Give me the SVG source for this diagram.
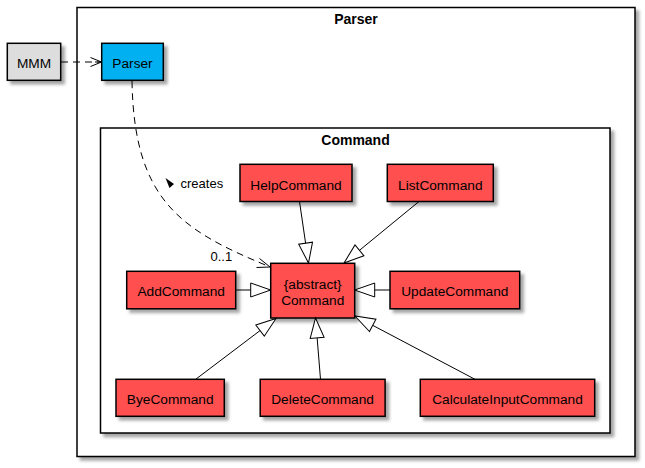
<svg xmlns="http://www.w3.org/2000/svg" width="645" height="468" viewBox="0 0 645 468">
<style>
.pkg{fill:#fff;stroke:#000;stroke-width:1.5}
.cls{stroke:#000;stroke-width:1.5}
.red{fill:#FF4F4F}
.t{font-family:"Liberation Sans",Arial,sans-serif;font-size:13.7px;fill:#000;text-anchor:middle}
.pt{font-family:"Liberation Sans",Arial,sans-serif;font-size:14px;font-weight:bold;fill:#000;text-anchor:middle}
.lbl{font-family:"Liberation Sans",Arial,sans-serif;font-size:13px;fill:#000}
.gen{fill:none;stroke:#000;stroke-width:1;marker-end:url(#ext)}
.dep{fill:none;stroke:#000;stroke-width:1;stroke-dasharray:7,5}
</style>
<defs>
<filter id="sh" x="-20%" y="-20%" width="140%" height="140%">
<feDropShadow dx="3.5" dy="3.5" stdDeviation="1.5" flood-color="#000" flood-opacity="0.35"/>
</filter>
<marker id="ext" markerWidth="24" markerHeight="18" refX="21" refY="8" orient="auto" markerUnits="userSpaceOnUse">
<path d="M1,1 L21,8 L1,15 Z" fill="#fff" stroke="#000" stroke-width="1"/>
</marker>
</defs>
<g id="pkg-parser">
<rect class="pkg" x="77" y="7.5" width="558" height="449" filter="url(#sh)"/>
<text class="pt" x="356" y="24">Parser</text>
</g>
<g id="pkg-command">
<rect class="pkg" x="100.5" y="128" width="509.5" height="305" filter="url(#sh)"/>
<text class="pt" x="355.5" y="145">Command</text>
</g>
<g id="MMM">
<rect class="cls" x="7.3" y="43.3" width="53.4" height="37" fill="#DDDDDD" filter="url(#sh)"/>
<text class="t" x="34" y="68">MMM</text>
</g>
<g id="Parser">
<rect class="cls" x="101.7" y="43.3" width="61.6" height="37" fill="#00B0F0" filter="url(#sh)"/>
<text class="t" x="132.5" y="68">Parser</text>
</g>
<g id="HelpCommand">
<rect class="cls red" x="240" y="164.3" width="112" height="37.2" filter="url(#sh)"/>
<text class="t" x="296" y="189.5">HelpCommand</text>
</g>
<g id="ListCommand">
<rect class="cls red" x="387.3" y="164.3" width="106" height="37.2" filter="url(#sh)"/>
<text class="t" x="440.3" y="189.5">ListCommand</text>
</g>
<g id="AddCommand">
<rect class="cls red" x="126.7" y="271.3" width="109" height="37.5" filter="url(#sh)"/>
<text class="t" x="181.2" y="296">AddCommand</text>
</g>
<g id="Command">
<rect class="cls red" x="270.7" y="263.3" width="84" height="54.7" filter="url(#sh)"/>
<text class="t" x="312.7" y="288.5">{abstract}</text>
<text class="t" x="312.7" y="304.5">Command</text>
</g>
<g id="UpdateCommand">
<rect class="cls red" x="390" y="271.3" width="129.7" height="37.5" filter="url(#sh)"/>
<text class="t" x="454.8" y="296">UpdateCommand</text>
</g>
<g id="ByeCommand">
<rect class="cls red" x="116" y="379.3" width="108.3" height="37" filter="url(#sh)"/>
<text class="t" x="170.2" y="404">ByeCommand</text>
</g>
<g id="DeleteCommand">
<rect class="cls red" x="260.2" y="379.3" width="124.9" height="37" filter="url(#sh)"/>
<text class="t" x="322.6" y="404">DeleteCommand</text>
</g>
<g id="CalculateInputCommand">
<rect class="cls red" x="420.3" y="379.3" width="174.4" height="37" filter="url(#sh)"/>
<text class="t" x="507.5" y="404">CalculateInputCommand</text>
</g>
<g id="connectors">
<path class="dep" d="M61,62 L100,62"/>
<path d="M90.5,57.5 L101.5,62 L90.5,66.5 M101.5,62 L95,62" fill="none" stroke="#000" stroke-width="1"/>
<path class="dep" d="M132,81 C134,200 180,230 269,266.5"/>
<path d="M259.5,258.5 L270,267 L256.5,267.5" fill="none" stroke="#000" stroke-width="1"/>
<polygon points="165.5,178 174,184 169.5,188" fill="#000"/>
<text class="lbl" x="180.5" y="188">creates</text>
<text class="lbl" x="210.5" y="261">0..1</text>
<path class="gen" d="M299.5,201.5 L308.5,263"/>
<path class="gen" d="M419,201.5 L344,263"/>
<path class="gen" d="M235.7,290 L270.7,290"/>
<path class="gen" d="M390,290 L354.7,290"/>
<path class="gen" d="M195.7,379.3 L276,318.5"/>
<path class="gen" d="M320.5,379.3 L315.5,318"/>
<path class="gen" d="M475,379.3 L355,316"/>
</g>
</svg>
